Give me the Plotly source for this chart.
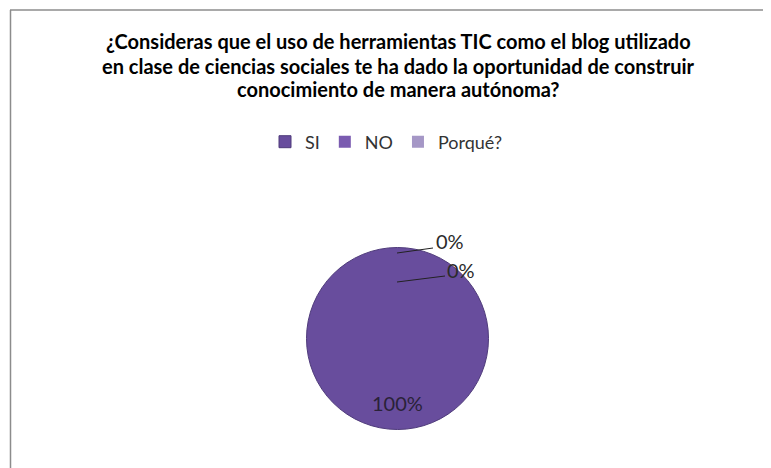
import plotly.graph_objects as go

# Data
categories = ["SI", "NO", "Porqué?"]
values = [100, 0, 0]
title_lines = [
    "¿Consideras que el uso de herramientas TIC como el blog utilizado",
    "en clase de ciencias sociales te ha dado la oportunidad de construir",
    "conocimiento de manera autónoma?",
]

W, H = 771, 468
OFF = 8  # page body margin
slice_colors = ["#684d9d", "#7a5bb0", "#a597c6"]

def px(x):
    return (x - OFF) / W

def py(y):
    return 1 - (y - OFF) / H

fig = go.Figure()
fig.add_trace(go.Pie(
    labels=categories,
    values=values,
    sort=False,
    direction="clockwise",
    rotation=0,
    marker=dict(colors=slice_colors,
                line=dict(color=["#4e3a7a", "#684d9d", "#684d9d"], width=[1, 0, 0])),
    textinfo="none",
    hoverinfo="label+percent",
    domain=dict(x=[px(306.5), px(488.5)], y=[py(429.5), py(247.5)]),
    showlegend=True,
))

total = sum(values)
pct = [f"{v / total:.0%}" for v in values]

label_font = dict(family="Lato", size=20, color="#2b2b2b")

annotations = []
for line, yc in zip(title_lines, [41.5, 65.5, 88.5]):
    annotations.append(dict(
        x=px(398), y=py(yc), xref="paper", yref="paper",
        xanchor="center", yanchor="middle",
        text=f"<b>{line}</b>", showarrow=False,
        font=dict(family="Lato", size=20, color="#000000"),
    ))

annotations += [
    dict(x=px(397), y=py(403), xref="paper", yref="paper", text=pct[0],
         xanchor="center", yanchor="middle", showarrow=False,
         font=dict(family="Lato", size=20, color="#2a2238")),
    dict(x=px(434), y=py(241), xref="paper", yref="paper", text=pct[1],
         xanchor="left", yanchor="middle", showarrow=False, font=label_font),
    dict(x=px(445), y=py(270), xref="paper", yref="paper", text=pct[2],
         xanchor="left", yanchor="middle", showarrow=False, font=label_font),
]

shapes = [
    dict(type="line", xref="paper", yref="paper", x0=px(10), x1=px(790), y0=py(10), y1=py(10),
         line=dict(color="#8c8c8c", width=1.5)),
    dict(type="line", xref="paper", yref="paper", x0=px(10.5), x1=px(10.5), y0=py(10), y1=py(490),
         line=dict(color="#8c8c8c", width=1.5)),
    # leader lines
    dict(type="line", xref="paper", yref="paper", x0=px(397), y0=py(253), x1=px(433), y1=py(248),
         line=dict(color="#222222", width=1)),
    dict(type="line", xref="paper", yref="paper", x0=px(397), y0=py(282), x1=px(445), y1=py(276),
         line=dict(color="#222222", width=1)),
]

fig.update_layout(
    width=W, height=H,
    margin=dict(l=0, r=0, t=0, b=0),
    paper_bgcolor="white",
    plot_bgcolor="white",
    annotations=annotations,
    shapes=shapes,
    legend=dict(
        orientation="h",
        x=px(265), xanchor="left",
        y=py(142), yanchor="middle",
        font=dict(family="Lato", size=18, color="#333333"),
        traceorder="normal",
    ),
)

fig.write_html("out.html")
